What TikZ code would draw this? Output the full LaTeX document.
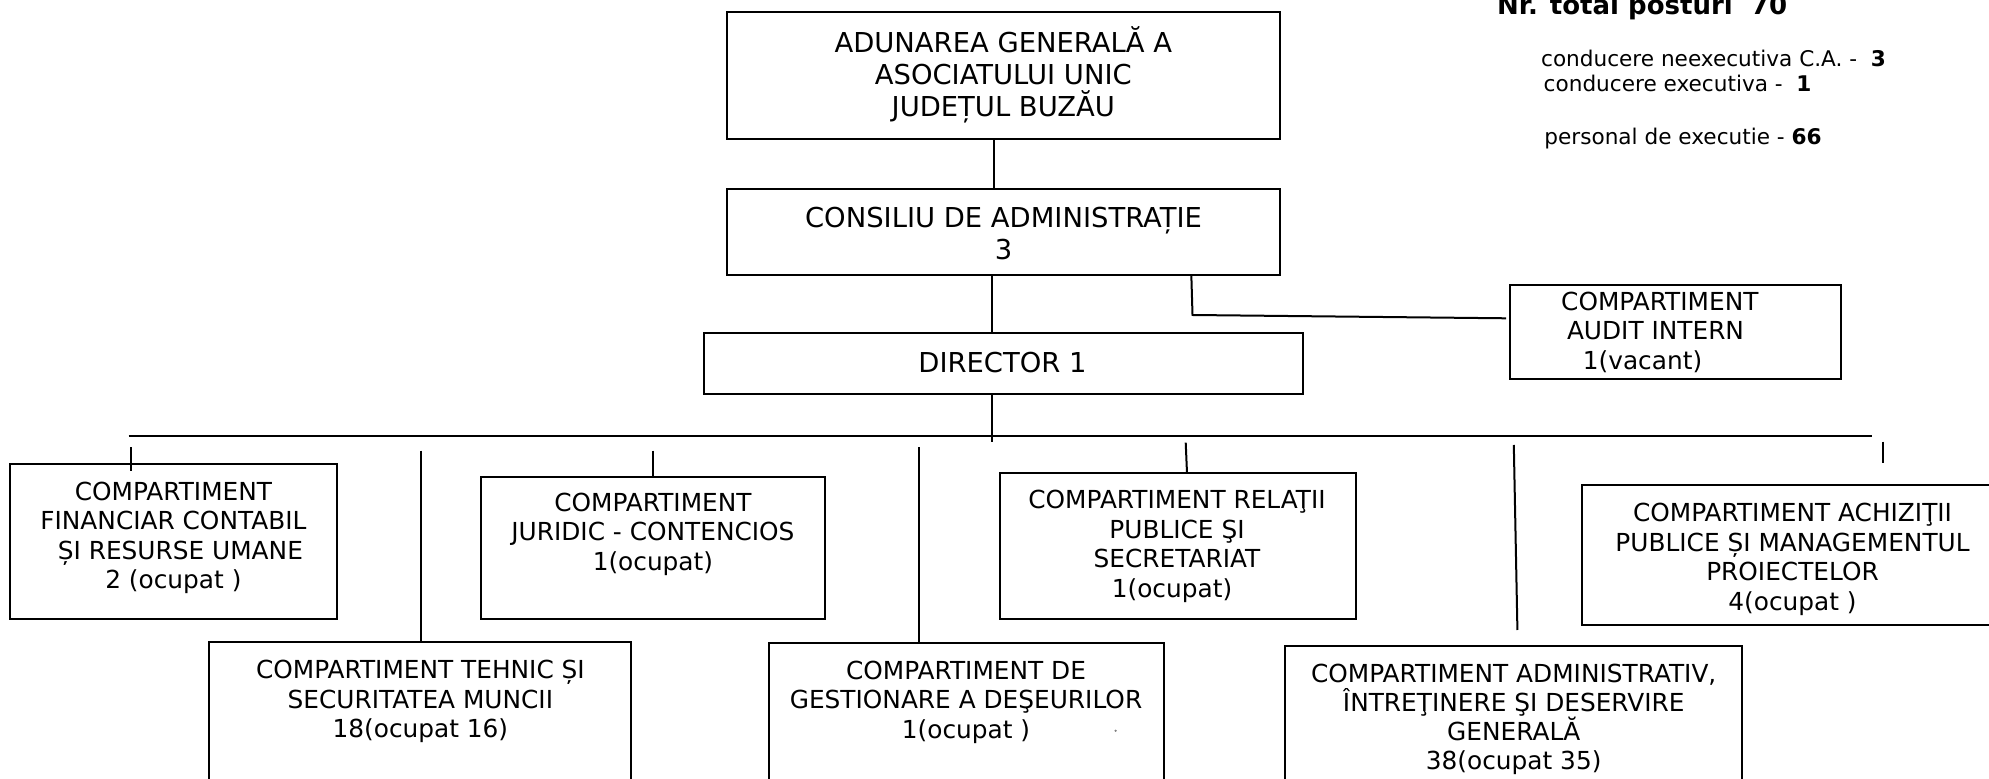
\documentclass[tikz,border=0pt]{standalone}
\usepackage{fontspec}
\setmainfont{DejaVu Sans}
\newcommand{\fst}{\rule{0pt}{1em}}
\begin{document}
\begin{tikzpicture}[x=0.5pt,y=-0.5pt,
  box/.style={draw, line width=1pt, inner sep=0pt, outer sep=0pt},
  conn/.style={line width=1pt},
  toptxt/.style={anchor=north, inner sep=0pt, align=center, font=\fontsize{13.7}{16}\selectfont},
  deptxt/.style={anchor=north, inner sep=0pt, align=center, font=\fontsize{12.4}{14.75}\selectfont},
  infotxt/.style={anchor=base west, inner sep=0pt, font=\fontsize{10.8}{13}\selectfont}]
\useasboundingbox (0,0) rectangle (1989,779);
\fill[white] (0,0) rectangle (1989,779);
\clip (0,0) rectangle (1989,779);

% boxes
\node[box, minimum width=276.3pt, minimum height=63.65pt] (aga) at (1003.3,75.65) {};
\node[box, minimum width=276.3pt, minimum height=43pt] (ca) at (1003.3,231.7) {};
\node[box, minimum width=299.55pt, minimum height=30.5pt] (dir) at (1003.65,363.8) {};
\node[box, minimum width=165.7pt, minimum height=47pt] (aud) at (1675.4,331.7) {};
\node[box, minimum width=163.6pt, minimum height=77.35pt] (fin) at (173.4,541.65) {};
\node[box, minimum width=172.1pt, minimum height=71.15pt] (jur) at (652.9,547.85) {};
\node[box, minimum width=177.95pt, minimum height=72.85pt] (rel) at (1177.55,546.15) {};
\node[box, minimum width=210.5pt, minimum height=69.9pt] (ach) at (1792.5,554.6) {};
\node[box, minimum width=211.05pt, minimum height=76.65pt] (teh) at (420.15,718.35) {};
\node[box, minimum width=197.3pt, minimum height=76.15pt] (des) at (966.5,718.85) {};
\node[box, minimum width=228.35pt, minimum height=74.65pt] (adm) at (1513.75,720.35) {};

% texts
\node[toptxt] (aga-t) at (1003.3,24.3) {\fst ADUNAREA GENERALĂ A\\ASOCIATULUI UNIC\\JUDEȚUL BUZĂU};
\node[toptxt] (ca-t) at (1003.5,200.1) {\fst CONSILIU DE ADMINISTRAȚIE\\3};
\node[toptxt] (dir-t) at (1002.5,344.6) {\fst DIRECTOR 1};
\node[deptxt] (aud-t) at (1655.5,285) {\fst\hspace*{4.3pt}COMPARTIMENT\\AUDIT INTERN\\1(vacant)\hspace*{13pt}};
\node[deptxt] (fin-t) at (173.4,475) {\fst COMPARTIMENT\\FINANCIAR CONTABIL\\\hspace*{7pt}ȘI RESURSE UMANE\\2 (ocupat )};
\node[deptxt, font=\fontsize{12.4}{14.5}\selectfont] (jur-t) at (652.9,486.8) {\fst COMPARTIMENT\\JURIDIC - CONTENCIOS\\1(ocupat)};
\node[deptxt] (rel-t) at (1177,483.5) {\fst COMPARTIMENT RELAŢII\\PUBLICE ŞI\\SECRETARIAT\\1(ocupat)\hspace*{5pt}};
\node[deptxt] (ach-t) at (1792.5,496.5) {\fst COMPARTIMENT ACHIZIŢII\\PUBLICE ȘI MANAGEMENTUL\\PROIECTELOR\\4(ocupat )};
\node[deptxt] (teh-t) at (420.4,653.6) {\fst COMPARTIMENT TEHNIC ȘI\\SECURITATEA MUNCII\\18(ocupat 16)};
\node[deptxt] (des-t) at (966,654) {\fst COMPARTIMENT DE\\GESTIONARE A DEŞEURILOR\\1(ocupat )};
\node[deptxt, font=\fontsize{12.4}{14.6}\selectfont] (adm-t) at (1513.7,656.8) {\fst COMPARTIMENT ADMINISTRATIV,\\ÎNTREŢINERE ŞI DESERVIRE\\GENERALĂ\\38(ocupat 35)};

% info
\node[infotxt, font=\bfseries\fontsize{13}{15}\selectfont] (tot) at (1496.7,15) {Nr. total posturi\ \ 70};
\node[infotxt] (i1) at (1540.7,66.7) {conducere neexecutiva C.A. -\ \ \textbf{3}};
\node[infotxt] (i2) at (1543.3,91.7) {conducere executiva -\ \ \textbf{1}};
\node[infotxt] (i3) at (1544,145) {personal de executie - \textbf{66}};

% connectors
\coordinate (x1) at (993.5,0);
\coordinate (x2) at (991.9,0);
\draw[conn] (aga.south -| x1) -- (ca.north -| x1);
\draw[conn] (ca.south -| x2) -- (dir.north -| x2);
\coordinate (a1) at (1191.3,0);
\coordinate (a2) at (1192.5,315);
\coordinate (a3) at (1506,318.3);
\draw[conn] (ca.south -| a1) -- (a2) -- (a3);

\coordinate (busL) at (128.6,436);
\coordinate (busR) at (1871.7,436);
\draw[conn] (busL) -- (busR);
\coordinate (d1) at (991.5,441.7);
\draw[conn] (dir.south -| d1) -- (d1);

\coordinate (f1) at (130.8,447.3);
\coordinate (f2) at (130.8,470.7);
\draw[conn] (f1) -- (f2);
\coordinate (t1) at (421,450.7);
\draw[conn] (t1) -- (teh.north -| t1);
\coordinate (j1) at (653,450.7);
\draw[conn] (j1) -- (jur.north -| j1);
\coordinate (s1) at (919.2,447.3);
\draw[conn] (s1) -- (des.north -| s1);
\coordinate (r1) at (1185.7,442.7);
\coordinate (r2) at (1187,0);
\draw[conn] (r1) -- (rel.north -| r2);
\coordinate (m1) at (1513.8,445);
\coordinate (m2) at (1517.4,630);
\draw[conn] (m1) -- (m2);
\coordinate (h1) at (1883.3,441.7);
\coordinate (h2) at (1883.3,463.3);
\draw[conn] (h1) -- (h2);

\fill[gray] (1115.6,730.7) circle (0.6pt);
\end{tikzpicture}
\end{document}
